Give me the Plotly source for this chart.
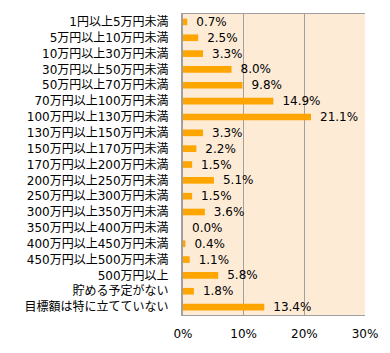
import plotly.graph_objects as go

categories = ["1円以上5万円未満", "5万円以上10万円未満", "10万円以上30万円未満", "30万円以上50万円未満",
              "50万円以上70万円未満", "70万円以上100万円未満", "100万円以上130万円未満", "130万円以上150万円未満",
              "150万円以上170万円未満", "170万円以上200万円未満", "200万円以上250万円未満", "250万円以上300万円未満",
              "300万円以上350万円未満", "350万円以上400万円未満", "400万円以上450万円未満", "450万円以上500万円未満",
              "500万円以上", "貯める予定がない", "目標額は特に立てていない"]
values = [0.7, 2.5, 3.3, 8.0, 9.8, 14.9, 21.1, 3.3, 2.2, 1.5, 5.1, 1.5, 3.6, 0.0, 0.4, 1.1, 5.8, 1.8, 13.4]
x_ticks = [0, 10, 20, 30]
x_tick_labels = ["0%", "10%", "20%", "30%"]

FONT = "DejaVu Sans, Noto Sans CJK JP"
NUMFONT = "DejaVu Sans"

fig = go.Figure(go.Bar(
    x=values, y=categories, orientation="h",
    marker=dict(color="#FFA500", line=dict(width=0)),
    text=["\u2002%.1f%%" % v for v in values],
    textposition="outside", cliponaxis=False, constraintext="none",
    textfont=dict(family=NUMFONT, size=12, color="#000000"),
    width=0.42,
))

fig.update_layout(
    width=390, height=353,
    margin=dict(l=183, r=25, t=14, b=38),
    paper_bgcolor="white", plot_bgcolor="#FDEBD6",
    showlegend=False,
    font=dict(family=FONT, size=12, color="#000000"),
    uniformtext=dict(mode=False),
)
fig.update_xaxes(range=[0, 30], tickvals=x_ticks, ticktext=x_tick_labels,
                 showgrid=True, gridcolor="#A0A0A0", gridwidth=1,
                 showline=True, linecolor="#A0A0A0", linewidth=1, mirror=True,
                 zeroline=False, ticks="", ticklabelstandoff=8,
                 tickfont=dict(family=NUMFONT, size=12), fixedrange=True)
fig.update_yaxes(autorange="reversed", showline=True, linecolor="#A0A0A0", linewidth=2,
                 ticks="", ticklabelstandoff=10, tickfont=dict(family=FONT, size=12),
                 showgrid=False, fixedrange=True)

fig.write_html("out.html")
